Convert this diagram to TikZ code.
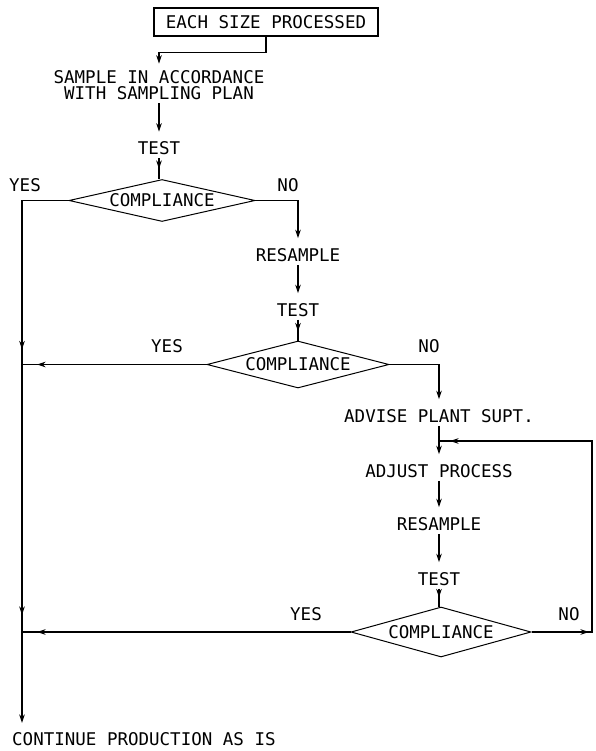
\documentclass[tikz,border=0pt]{standalone}
\usepackage{fontspec}
\newfontfamily\lettering{DejaVu Sans Mono}
\usetikzlibrary{shapes.geometric,arrows.meta,calc}
\begin{document}
\begin{tikzpicture}[x=1pt,y=-1pt,
  every node/.style={font=\lettering\fontsize{17.5}{16}\selectfont, inner sep=3pt},
  startbox/.style={draw, line width=1.2pt, minimum width=224pt, minimum height=28pt, inner sep=0pt},
  decision/.style={draw, diamond, aspect=4, inner sep=0pt, line width=1pt},
  flow/.style={draw, line width=1.1pt},
  tipto/.style={-{Stealth[length=8.5pt,width=5.5pt]}},
  into/.style={tipto, shorten >=#1},
  into/.default=7pt,
]
\useasboundingbox (0,0) rectangle (595,751);

% nodes
\node[startbox] (start) at (266,22) {EACH SIZE PROCESSED};
\node[align=center] (sample) at (159,85.5) {SAMPLE IN ACCORDANCE\\WITH SAMPLING PLAN};
\node (test1) at (159,148.5) {TEST};
\node[decision, minimum width=186pt, minimum height=42pt] (d1) at (162,200.5) {COMPLIANCE};
\node (yes1) at (25,185) {YES};
\node (no1) at (288,185) {NO};

\node (res1) at (298,255) {RESAMPLE};
\node (test2) at (298,310) {TEST};
\node[decision, minimum width=182pt, minimum height=47pt] (d2) at (298,364.5) {COMPLIANCE};
\node (yes2) at (167,346) {YES};
\node (no2) at (429,346) {NO};

\node (advise) at (439,416) {ADVISE PLANT SUPT.};
\node (adjust) at (439,471) {ADJUST PROCESS};
\node (res2) at (439,524) {RESAMPLE};
\node (test3) at (439,579) {TEST};
\node[decision, minimum width=180pt, minimum height=50pt] (d3) at (441,632) {COMPLIANCE};
\node (yes3) at (306,614) {YES};
\node (no3) at (569,614) {NO};

\node[anchor=west, inner sep=0pt] (cont) at (12,739) {CONTINUE PRODUCTION AS IS};

% junction coordinates
\coordinate (trunk) at (22,200.5);
\coordinate (j2) at (trunk |- d2.west);
\coordinate (j3) at (trunk |- d3.west);
\coordinate (tend) at (22,723);
\coordinate (j4) at (439,441);
\coordinate (r1) at (592,632);
\coordinate (r2) at (592,441);
\coordinate (t1) at (test1.south |- d1.north);
\coordinate (t3) at (test3.south |- d3.north);

% connectors: column 1
\draw[flow, into=4pt] (start.south) -- ++(0,16) -| (sample.north);
\draw[flow, into] (sample.south) -- (test1.north);
\draw[flow] (test1.south) -- (t1);
\draw[flow, tipto] (test1.south) -- ($(t1)!10pt!(test1.south)$);

% left trunk
\draw[flow] (d1.west) -- (trunk) -- (j2);
\draw[flow, tipto] (trunk) -- ($(j2)!15pt!(trunk)$);
\draw[flow] (j2) -- (j3);
\draw[flow, tipto] (j2) -- ($(j3)!17pt!(j2)$);
\draw[flow, tipto] (j3) -- (tend);
\draw[flow] (d2.west) -- (j2);
\draw[flow, tipto] (d2.west) -- ($(j2)!15pt!(d2.west)$);
\draw[flow] (d3.west) -- (j3);
\draw[flow, tipto] (d3.west) -- ($(j3)!15pt!(d3.west)$);

% column 2
\draw[flow, into] (d1.east) -| (res1.north);
\draw[flow, into] (res1.south) -- (test2.north);
\draw[flow] (test2.south) -- (d2.north);
\draw[flow, tipto] (test2.south) -- ($(d2.north)!9pt!(test2.south)$);

% column 3
\draw[flow, into] (d2.east) -| (advise.north);
\draw[flow, into] (advise.south) -- (adjust.north);
\draw[flow, into] (adjust.south) -- (res2.north);
\draw[flow, into] (res2.south) -- (test3.north);
\draw[flow] (test3.south) -- (t3);
\draw[flow, tipto] (test3.south) -- ($(t3)!9pt!(test3.south)$);

% loop back
\draw[flow] (d3.east) -- (r1) -- (r2) -- (j4);
\draw[flow, tipto] (d3.east) -- ($(r1)!3pt!(d3.east)$);
\draw[flow, tipto] (r2) -- ($(j4)!11pt!(r2)$);
\end{tikzpicture}
\end{document}
